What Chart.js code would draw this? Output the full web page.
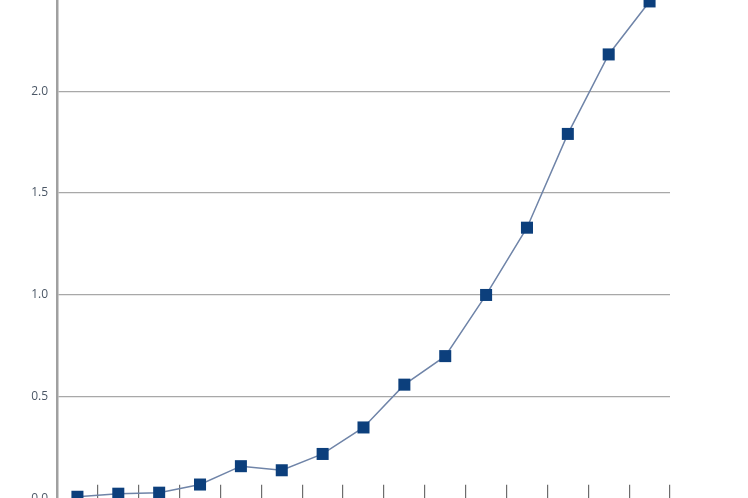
<!DOCTYPE html>
<html>
<head>
<meta charset="utf-8">
<script src="https://cdn.jsdelivr.net/npm/chart.js@4"></script>
<style>
  html, body { margin: 0; padding: 0; background: #fff; overflow: hidden; }
  body { width: 748px; height: 498px; position: relative; }
  #wrap { position: absolute; left: 0; top: -27px; width: 748px; height: 542px; }
</style>
</head>
<body>
<div id="wrap"><canvas id="growthChart"></canvas></div>
<script>
// categories are cut off below the visible frame in the reference
const categories = ['1', '2', '3', '4', '5', '6', '7', '8', '9', '10', '11', '12', '13', '14', '15'];
const values = [0.01, 0.025, 0.03, 0.07, 0.16, 0.14, 0.22, 0.35, 0.56, 0.70, 1.00, 1.33, 1.79, 2.18, 2.44];
const yTicks = [0, 0.5, 1.0, 1.5, 2.0, 2.5];

document.addEventListener("DOMContentLoaded", () => {
    const ctx = document.getElementById('growthChart').getContext('2d');

    new Chart(ctx, {
        type: 'line',
        data: {
            labels: categories,
            datasets: [{
                data: values,
                borderColor: '#6f84a8',
                borderWidth: 1.5,
                pointStyle: 'rect',
                pointRadius: 8.5,
                pointHoverRadius: 8.5,
                pointBackgroundColor: '#0c3f7c',
                pointBorderColor: '#0c3f7c',
                pointBorderWidth: 0,
                tension: 0,
                clip: false
            }]
        },
        options: {
            responsive: true,
            maintainAspectRatio: false,
            animation: false,
            layout: { padding: { right: 78, top: 0, bottom: 0, left: 0 } },
            plugins: {
                legend: { display: false },
                tooltip: { enabled: false }
            },
            scales: {
                x: {
                    offset: true,
                    afterFit: s => { s.height = 0; },
                    ticks: { display: false },
                    grid: {
                        offset: true,
                        drawOnChartArea: false,
                        drawTicks: true,
                        tickLength: -14,
                        color: '#6d6d6d',
                        lineWidth: 1.2
                    },
                    border: { color: '#9a9a9a', width: 1.5 }
                },
                y: {
                    min: yTicks[0],
                    max: yTicks[yTicks.length - 1],
                    afterFit: s => { s.width = 57; },
                    afterBuildTicks: s => { s.ticks = yTicks.map(v => ({ value: v })); },
                    ticks: {
                        padding: 9,
                        color: '#4b5766',
                        font: { family: 'Open Sans', size: 12 },
                        callback: v => Number(v).toFixed(1)
                    },
                    grid: {
                        drawTicks: false,
                        color: '#a8a8a8',
                        lineWidth: 1.2
                    },
                    border: { color: '#a0a0a0', width: 2.5 }
                }
            }
        }
    });
});
</script>
</body>
</html>
